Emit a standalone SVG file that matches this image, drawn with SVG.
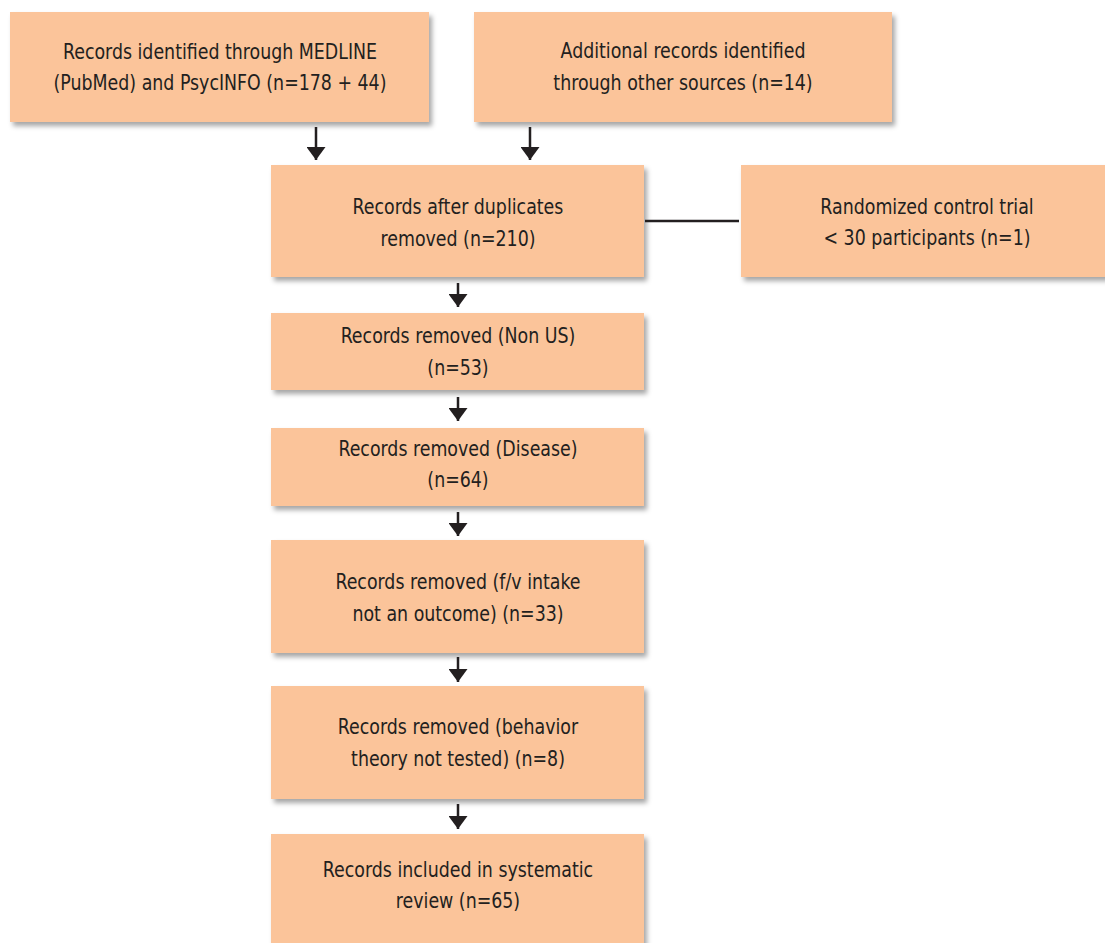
<svg xmlns="http://www.w3.org/2000/svg" width="1105" height="943" viewBox="0 0 1105 943">
<defs>
<filter id="sh" x="-10%" y="-10%" width="125%" height="135%">
<feDropShadow dx="3" dy="4" stdDeviation="2.5" flood-color="#000" flood-opacity="0.35"/>
</filter>
<marker id="ah" viewBox="0 0 13 19" refX="13" refY="9.5" markerWidth="13" markerHeight="19" markerUnits="userSpaceOnUse" orient="auto">
<path d="M0,0 L13,9.5 L0,19 Z" fill="#231f20"/>
</marker>
</defs>
<style>
.box{fill:#fbc49a;filter:url(#sh)}
text{font-family:"DejaVu Sans Condensed","Liberation Sans",sans-serif;font-stretch:condensed;font-size:21.5px;fill:#231f20;text-anchor:middle}
.c{stroke:#231f20;stroke-width:2.5;fill:none}
</style>
<rect width="1105" height="943" fill="#fff"/>
<g id="n1"><rect class="box" x="10" y="12" width="419" height="110"/><g transform="translate(220 0) scale(0.9 1)"><text x="0" y="59">Records identified through MEDLINE</text><text x="0" y="90">(PubMed) and PsycINFO (n=178 + 44)</text></g></g>
<g id="n2"><rect class="box" x="474" y="12" width="418" height="110"/><g transform="translate(683 0) scale(0.9 1)"><text x="0" y="58">Additional records identified</text><text x="0" y="90">through other sources (n=14)</text></g></g>
<g id="n3"><rect class="box" x="271" y="165" width="373" height="112"/><g transform="translate(458 0) scale(0.9 1)"><text x="0" y="214">Records after duplicates</text><text x="0" y="246">removed (n=210)</text></g></g>
<g id="n4"><rect class="box" x="741" y="165" width="370" height="112"/><g transform="translate(927 0) scale(0.9 1)"><text x="0" y="214">Randomized control trial</text><text x="0" y="245">&lt; 30 participants (n=1)</text></g></g>
<g id="n5"><rect class="box" x="271" y="313" width="373" height="77"/><g transform="translate(458 0) scale(0.9 1)"><text x="0" y="343">Records removed (Non US)</text><text x="0" y="375">(n=53)</text></g></g>
<g id="n6"><rect class="box" x="271" y="428" width="373" height="78"/><g transform="translate(458 0) scale(0.9 1)"><text x="0" y="456">Records removed (Disease)</text><text x="0" y="487">(n=64)</text></g></g>
<g id="n7"><rect class="box" x="271" y="540" width="373" height="113"/><g transform="translate(458 0) scale(0.9 1)"><text x="0" y="589">Records removed (f/v intake</text><text x="0" y="621">not an outcome) (n=33)</text></g></g>
<g id="n8"><rect class="box" x="271" y="686" width="373" height="113"/><g transform="translate(458 0) scale(0.9 1)"><text x="0" y="734">Records removed (behavior</text><text x="0" y="766">theory not tested) (n=8)</text></g></g>
<g id="n9"><rect class="box" x="271" y="834" width="373" height="120"/><g transform="translate(458 0) scale(0.9 1)"><text x="0" y="877">Records included in systematic</text><text x="0" y="908">review (n=65)</text></g></g>
<g id="connectors">
<line class="c" x1="316" y1="127" x2="316" y2="160" marker-end="url(#ah)"/>
<line class="c" x1="530" y1="127" x2="530" y2="160" marker-end="url(#ah)"/>
<line class="c" x1="645" y1="221" x2="739" y2="221"/>
<line class="c" x1="458" y1="283" x2="458" y2="307" marker-end="url(#ah)"/>
<line class="c" x1="458" y1="397" x2="458" y2="421" marker-end="url(#ah)"/>
<line class="c" x1="458" y1="512" x2="458" y2="536" marker-end="url(#ah)"/>
<line class="c" x1="458" y1="657" x2="458" y2="682" marker-end="url(#ah)"/>
<line class="c" x1="458" y1="804" x2="458" y2="829" marker-end="url(#ah)"/>
</g>
</svg>
